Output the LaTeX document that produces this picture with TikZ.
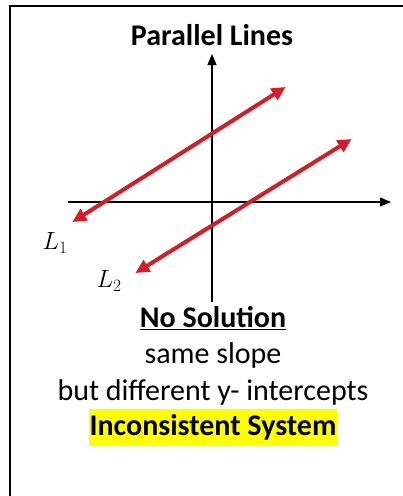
\documentclass[tikz,border=0pt]{standalone}
\usepackage{fontspec}
\setmainfont{Carlito}
\usetikzlibrary{arrows.meta}
\definecolor{linered}{RGB}{214,28,38}
\definecolor{hl}{RGB}{255,255,0}
\tikzset{
  axis/.style={line width=1.2pt,-{Triangle[length=11pt,width=9pt]}},
  redline/.style={linered,line width=4pt,{Triangle[length=14pt,width=13pt]}-{Triangle[length=14pt,width=13pt]}, shorten <=-2pt, shorten >=-2pt},
  txt/.style={font=\fontsize{30}{34}\selectfont, inner sep=0pt},
  btxt/.style={font=\fontsize{30}{34}\selectfont\bfseries, inner sep=0pt},
  lbl/.style={font=\fontsize{24}{28}\selectfont, inner sep=0pt}
}
\begin{document}
\begin{tikzpicture}[x=1pt,y=-1pt]
\useasboundingbox (0,0) rectangle (403,496);
\fill[white] (0,0) rectangle (403,496);
\begin{scope}
\clip (0,0) rectangle (403,496);
\draw[line width=2.2pt] (10,6) rectangle (420,520);
\end{scope}
\node[btxt] (title) at (212,35) {Parallel Lines};
% axes
\coordinate (xs) at (68,202);
\coordinate (xe) at (391,202);
\coordinate (ys) at (212,302);
\coordinate (ye) at (212,54);
\draw[axis] (xs) -- (xe);
\draw[axis] (ys) -- (ye);
% lines
\coordinate (a1) at (74,221);
\coordinate (b1) at (284,88);
\coordinate (a2) at (137,272);
\coordinate (b2) at (350,140);
\draw[redline] (a1) -- (b1);
\draw[redline] (a2) -- (b2);
\node[lbl] (l1) at (55,243) {$L_1$};
\node[lbl] (l2) at (109,281) {$L_2$};
% text
\node[btxt] (ns) at (213,318) {\underline{No Solution}};
\node[txt] (ss) at (213,355) {same slope};
\node[txt] (bd) at (213,392) {but different y- intercepts};
\node[btxt, fill=hl, inner xsep=1pt, minimum height=37pt] (is) at (213,427) {Inconsistent System};
\end{tikzpicture}
\end{document}
